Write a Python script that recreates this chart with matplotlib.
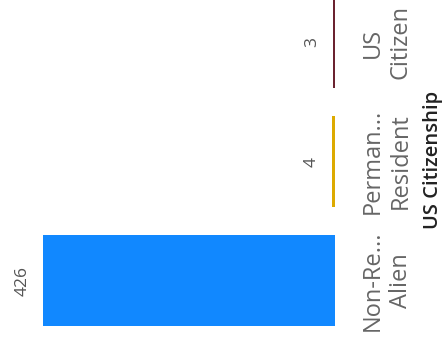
import matplotlib
matplotlib.use("Agg")
from matplotlib import pyplot as plt
import matplotlib.transforms as mtransforms

plt.rcParams['font.family'] = ['Open Sans', 'DejaVu Sans']

categories = ['Non-Re...\nAlien', 'Perman...\nResident', 'US\nCitizen']
counts = [426, 4, 3]
colors = ['#1188FF', '#DDAA00', '#6B2330']

fig = plt.figure(figsize=(4.45, 3.41), dpi=100)
ax = fig.add_axes([0, 0, 335 / 445, 1])

pos = list(range(len(categories)))
ax.barh(pos, counts, height=0.765, color=colors)
ax.set_xlim(489, 0)
ax.set_ylim(-0.508, 2.357)
ax.axis('off')

# value labels, rotated, just past the end of each bar
for p, c in zip(pos, counts):
    ax.annotate(str(c), (c, p), xytext=(-15, 0), textcoords='offset points',
                rotation=90, ha='center', va='center', fontsize=12.5,
                color='#555555')

# category labels on the right, rotated like the axis
trans = mtransforms.blended_transform_factory(ax.transAxes, ax.transData)
for p, lab in zip(pos, categories):
    ax.text(1.155, p, lab, transform=trans, rotation=90, ha='center',
            va='center', fontsize=17, color='#666666', linespacing=1.2,
            clip_on=False)

fig.text(433 / 445, 0.531, 'US Citizenship', rotation=90, ha='center',
         va='center', fontsize=14.5, color='#222222', fontweight='semibold')

fig.savefig('out.png', dpi=100)
